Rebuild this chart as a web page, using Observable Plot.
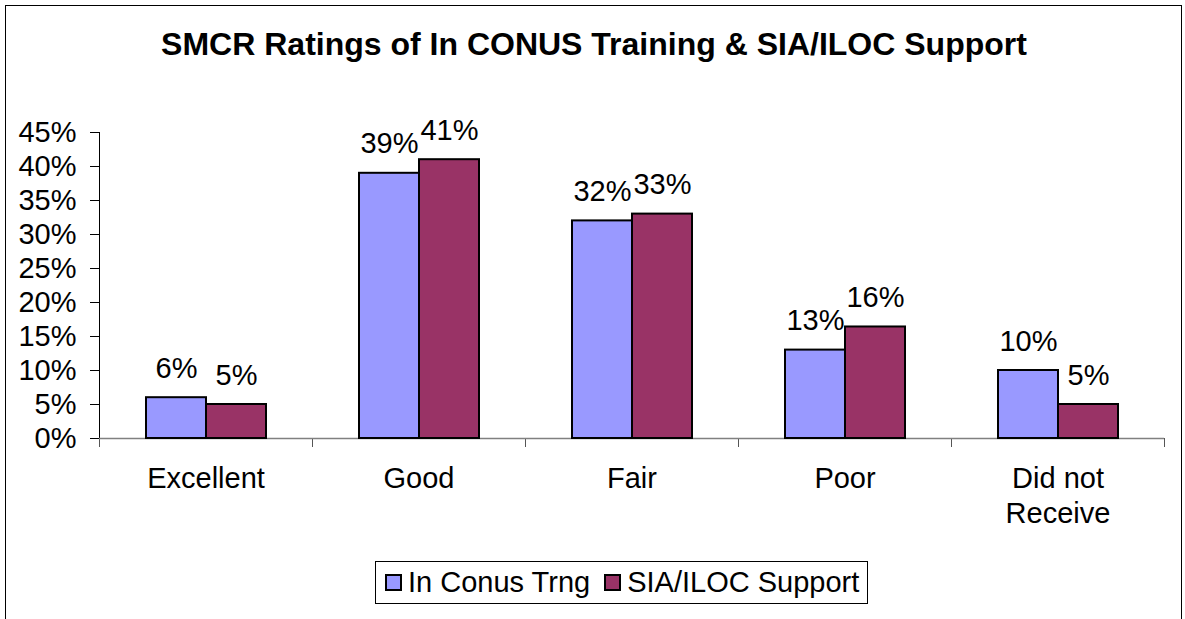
<!DOCTYPE html>
<html>
<head>
<meta charset="utf-8">
<script src="https://cdn.jsdelivr.net/npm/d3@7"></script>
<script src="https://cdn.jsdelivr.net/npm/@observablehq/plot@0.6"></script>
<style>
  html, body { margin: 0; padding: 0; background: white; overflow: hidden; }
  #wrap { position: relative; width: 1185px; height: 619px; font-family: "Liberation Sans", Arial, sans-serif; color: black; }
  #border { position: absolute; left: 5px; top: 5px; width: 1177px; height: 700px; border: 1px solid black; box-sizing: border-box; }
  #title { position: absolute; left: 5px; width: 1178px; top: 28px; text-align: center; font-weight: bold; font-size: 32px; line-height: 32px; }
  #chart { position: absolute; left: 0; top: 100px; }
  #legend { position: absolute; left: 375px; top: 561px; width: 493px; height: 43px; border: 1px solid black; box-sizing: border-box; display: flex; align-items: center; font-size: 29px; padding-left: 9px; }
  .item { display: flex; align-items: center; margin-right: 14px; white-space: nowrap; }
  .sw { width: 17px; height: 17px; border: 2px solid black; box-sizing: border-box; margin-right: 6px; }
</style>
</head>
<body>
<div id="wrap">
  <div id="border"></div>
  <div id="title">SMCR Ratings of In CONUS Training &amp; SIA/ILOC Support</div>
  <div id="chart"></div>
  <div id="legend"></div>
</div>
<script>
const categories = ["Excellent", "Good", "Fair", "Poor", "Did not\nReceive"];
const seriesNames = ["In Conus Trng", "SIA/ILOC Support"];
const conusValues = [6, 39, 32, 13, 10];
const silocValues = [5, 41, 33, 16.4, 5];
const yTicks = [0, 5, 10, 15, 20, 25, 30, 35, 40, 45];
const seriesColors = ["#9999FF", "#993366"];

const data = [];
categories.forEach((c, i) => {
  data.push({category: c, series: seriesNames[0], value: conusValues[i]});
  data.push({category: c, series: seriesNames[1], value: silocValues[i]});
});

const W = 1185, H = 445, mT = 32, mB = 107, mL = 97, mR = 20;
const innerH = H - mT - mB;
const FS = 29;

const plot = Plot.plot({
  width: W, height: H,
  marginTop: mT, marginBottom: mB, marginLeft: mL, marginRight: mR,
  style: {fontFamily: "'Liberation Sans', Arial, sans-serif", fontSize: FS + "px", color: "black", background: "transparent", overflow: "visible"},
  fx: {domain: categories, padding: 0, label: null},
  x: {domain: seriesNames, paddingInner: 0, paddingOuter: 0.75, axis: null},
  y: {domain: [0, 45], axis: null},
  color: {domain: seriesNames, range: seriesColors},
  marks: [
    Plot.axisY({ticks: yTicks, tickFormat: d => d + "%", tickSize: 9, tickPadding: 14, label: null, fontSize: FS, stroke: "black"}),
    Plot.axisFx({anchor: "bottom", tickSize: 0, tickPadding: 25, label: null, lineHeight: 1.2, fontSize: FS}),
    Plot.frame({anchor: "left", facet: "super", insetBottom: -8, stroke: "black"}),
    Plot.frame({anchor: "left", insetTop: innerH, insetBottom: -8, stroke: "#555"}),
    Plot.frame({anchor: "right", insetTop: innerH, insetBottom: -8, stroke: "#555"}),
    Plot.ruleY([0], {stroke: "#808080", strokeWidth: 1.5}),
    Plot.barY(data, {fx: "category", x: "series", y: "value", fill: "series", stroke: "black", strokeWidth: 2}),
    Plot.text(data, {fx: "category", x: "series", y: "value", text: d => Math.round(d.value) + "%", lineAnchor: "bottom", dy: -20, fill: "black", fontSize: FS})
  ]
});
document.getElementById("chart").appendChild(plot);

const legend = document.getElementById("legend");
seriesNames.forEach((s, i) => {
  const item = document.createElement("div");
  item.className = "item";
  const sw = document.createElement("div");
  sw.className = "sw";
  sw.style.background = seriesColors[i];
  const t = document.createElement("span");
  t.textContent = s;
  item.appendChild(sw);
  item.appendChild(t);
  legend.appendChild(item);
});
</script>
</body>
</html>
